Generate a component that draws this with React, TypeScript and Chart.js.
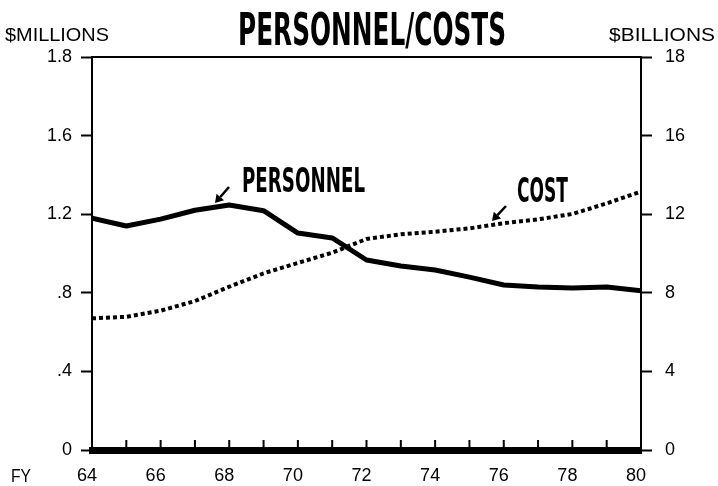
import React, { useEffect, useRef } from "react";
import { Chart, registerables } from "chart.js";

Chart.register(...registerables);

const years = [64, 65, 66, 67, 68, 69, 70, 71, 72, 73, 74, 75, 76, 77, 78, 79, 80];
const personnel = [1.18, 1.14, 1.175, 1.22, 1.247, 1.218, 1.104, 1.079, 0.967, 0.936, 0.916, 0.88, 0.84, 0.83, 0.824, 0.83, 0.81];
const cost = [6.7, 6.78, 7.09, 7.58, 8.31, 8.99, 9.52, 10.04, 10.74, 10.98, 11.11, 11.28, 11.54, 11.74, 12.01, 12.55, 13.15];
const leftTickLabels = ["0", ".4", ".8", "1.2", "1.6", "1.8"];
const rightTickLabels = ["0", "4", "8", "12", "16", "18"];
const titleText = "PERSONNEL/COSTS";
const leftAxisTitle = "$MILLIONS";
const rightAxisTitle = "$BILLIONS";
const personnelLabel = "PERSONNEL";
const costLabel = "COST";
const fyLabel = "FY";

const TICK_FONT = '"Liberation Sans", Arial, sans-serif';
const COND_FONT = '"Liberation Sans Narrow", "DejaVu Sans Condensed", "Liberation Sans", sans-serif';

function fitText(ctx: CanvasRenderingContext2D, text: string, left: number, baseline: number, width: number, font: string) {
  ctx.save();
  ctx.font = font;
  const w = ctx.measureText(text).width;
  ctx.translate(left, baseline);
  ctx.scale(width / w, 1);
  ctx.textAlign = "left";
  ctx.textBaseline = "alphabetic";
  ctx.fillStyle = "#000";
  ctx.fillText(text, 0, 0);
  ctx.restore();
}

function arrow(ctx: CanvasRenderingContext2D, x1: number, y1: number, x2: number, y2: number) {
  ctx.save();
  ctx.strokeStyle = "#000";
  ctx.fillStyle = "#000";
  ctx.lineWidth = 2.5;
  const ang = Math.atan2(y2 - y1, x2 - x1);
  const hl = 8;
  const bx = x2 - hl * Math.cos(ang);
  const by = y2 - hl * Math.sin(ang);
  ctx.beginPath();
  ctx.moveTo(x1, y1);
  ctx.lineTo(bx, by);
  ctx.stroke();
  ctx.beginPath();
  ctx.moveTo(x2, y2);
  ctx.lineTo(bx + 5 * Math.cos(ang + Math.PI / 2), by + 5 * Math.sin(ang + Math.PI / 2));
  ctx.lineTo(bx + 5 * Math.cos(ang - Math.PI / 2), by + 5 * Math.sin(ang - Math.PI / 2));
  ctx.closePath();
  ctx.fill();
  ctx.restore();
}

const decorPlugin = {
  id: "decor",
  afterDraw(chart: any) {
    const ctx: CanvasRenderingContext2D = chart.ctx;
    const area = chart.chartArea;
    const xs = chart.scales.x;
    ctx.save();
    ctx.strokeStyle = "#000";
    ctx.lineWidth = 2;
    ctx.beginPath();
    ctx.moveTo(area.left, area.top);
    ctx.lineTo(area.right, area.top);
    ctx.stroke();
    for (let v = xs.min + 1; v < xs.max; v++) {
      const px = xs.getPixelForValue(v);
      ctx.beginPath();
      ctx.moveTo(px, area.bottom);
      ctx.lineTo(px, area.bottom - 10);
      ctx.stroke();
    }
    ctx.restore();

    fitText(ctx, titleText, 238, 45, 268, `bold 45px ${COND_FONT}`);
    fitText(ctx, leftAxisTitle, 5, 41, 104, `18px ${TICK_FONT}`);
    fitText(ctx, rightAxisTitle, 609, 41, 106, `18px ${TICK_FONT}`);
    fitText(ctx, personnelLabel, 242, 192, 123, `bold 33px ${COND_FONT}`);
    fitText(ctx, costLabel, 517, 202, 51, `bold 33px ${COND_FONT}`);
    fitText(ctx, fyLabel, 11, 482, 20, `18px ${TICK_FONT}`);
    arrow(ctx, 229, 187, 215, 203);
    arrow(ctx, 506, 206, 492, 221);
  },
};

export default function App() {
  const ref = useRef<HTMLCanvasElement | null>(null);
  useEffect(() => {
    if (!ref.current) return;
    Chart.defaults.font.family = TICK_FONT;
    const chart = new Chart(ref.current, {
      type: "line",
      data: {
        datasets: [
          {
            label: "Personnel",
            data: years.map((y, i) => ({ x: y, y: personnel[i] })),
            yAxisID: "yL",
            borderColor: "#000",
            borderWidth: 5,
            pointRadius: 0,
            tension: 0,
            borderJoinStyle: "round",
          },
          {
            label: "Cost",
            data: years.map((y, i) => ({ x: y, y: cost[i] })),
            yAxisID: "yR",
            borderColor: "#000",
            borderWidth: 4,
            borderDash: [4, 3],
            pointRadius: 0,
            tension: 0,
          },
        ],
      },
      options: {
        responsive: false,
        animation: false,
        layout: { padding: { top: 57, left: 0, right: 0, bottom: 0 } },
        plugins: { legend: { display: false }, tooltip: { enabled: false }, title: { display: false } },
        scales: {
          x: {
            type: "linear",
            min: 64,
            max: 80,
            ticks: {
              stepSize: 2,
              autoSkip: false,
              maxRotation: 0,
              color: "#000",
              padding: 15,
              labelOffset: -5,
              font: { size: 18, family: TICK_FONT },
              callback: (v: any) => String(v),
            },
            grid: { display: true, drawOnChartArea: false, drawTicks: false, color: "#000" },
            border: { display: true, color: "#000", width: 7 },
            afterFit: (s: any) => {
              s.height = 36;
            },
          },
          yL: {
            type: "linear",
            position: "left",
            min: 0,
            max: 2,
            ticks: {
              stepSize: 0.4,
              color: "#000",
              padding: 9,
              font: { size: 18, family: TICK_FONT },
              callback: (_v: any, i: number) => leftTickLabels[i],
            },
            grid: { drawOnChartArea: false, tickLength: 11, tickWidth: 2, color: "#000" },
            border: { color: "#000", width: 2 },
            afterFit: (s: any) => {
              s.width = 92;
            },
          },
          yR: {
            type: "linear",
            position: "right",
            min: 0,
            max: 20,
            ticks: {
              stepSize: 4,
              color: "#000",
              padding: 13,
              font: { size: 18, family: TICK_FONT },
              callback: (_v: any, i: number) => rightTickLabels[i],
            },
            grid: { drawOnChartArea: false, tickLength: 11, tickWidth: 2, color: "#000" },
            border: { color: "#000", width: 2 },
            afterFit: (s: any) => {
              s.width = 77;
            },
          },
        },
      },
      plugins: [decorPlugin],
    });
    return () => chart.destroy();
  }, []);
  return (
    <div style={{ position: "absolute", left: 0, top: 0, width: 718, height: 486, background: "#fff" }}>
      <canvas ref={ref} width={718} height={486} />
    </div>
  );
}
